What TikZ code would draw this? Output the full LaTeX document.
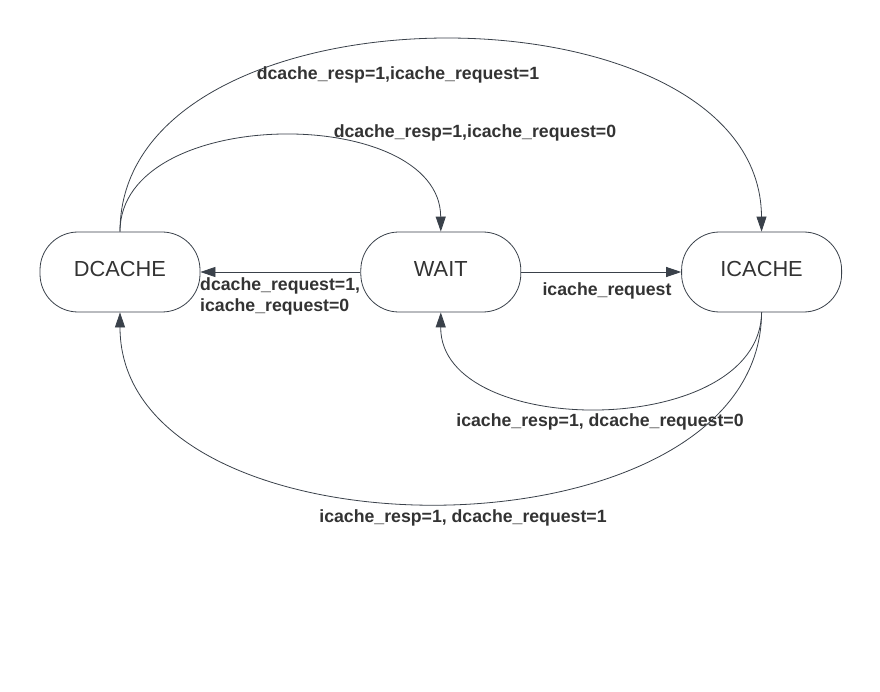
\documentclass[tikz,border=0pt]{standalone}
\usepackage{fontspec}
\setmainfont{Liberation Sans}
\usetikzlibrary{arrows.meta,positioning}
\definecolor{lineGray}{RGB}{58,65,74}
\definecolor{textGray}{RGB}{51,51,51}

\begin{document}
\begin{tikzpicture}[x=1pt, y=-1pt,
    state/.style={draw=lineGray, line width=0.8pt, rounded corners=38pt,
      minimum width=160pt, minimum height=80pt, inner sep=0pt,
      text depth=6pt,
      font=\fontsize{21.8}{26}\selectfont, text=textGray},
    lbl/.style={font=\bfseries\fontsize{17.7}{21}\selectfont,
      text=textGray, inner sep=0pt},
    trans/.style={draw=lineGray, line width=0.8pt,
      -{Triangle[length=15pt,width=10pt]}}
  ]
  \fill[white] (0,0) rectangle (880,692);
  \useasboundingbox (0,0) rectangle (880,692);

  % states
  \node[state] (dcache) at (120,272) {DCACHE};
  \node[state, right=160pt of dcache] (wait) {WAIT};
  \node[state, right=160pt of wait] (icache) {ICACHE};

  % straight transitions
  \draw[trans] (wait.west) -- (dcache.east);
  \draw[trans] (wait.east) -- (icache.west);

  % curved transitions
  \draw[trans] (dcache.north) .. controls (120,-24) and (760,-24) .. (icache.north);
  \draw[trans] (dcache.north) .. controls (120,104) and (440,104) .. (wait.north);
  \draw[trans] (icache.south) .. controls (760,440) and (440,440) .. (wait.south);
  \draw[trans] (icache.south) .. controls (760,567) and (120,567) .. (dcache.south);

  % labels
  \node[lbl] (lblDI) at (398,75) {dcache\_resp=1,icache\_request=1};
  \node[lbl] (lblDW) at (475,133) {dcache\_resp=1,icache\_request=0};
  \node[lbl, anchor=west, align=left] (lblWD) at (200,296)
    {dcache\_request=1,\\icache\_request=0};
  \node[lbl] (lblWI) at (607,291) {icache\_request};
  \node[lbl] (lblIW) at (600,422) {icache\_resp=1, dcache\_request=0};
  \node[lbl] (lblID) at (463,518) {icache\_resp=1, dcache\_request=1};
\end{tikzpicture}
\end{document}
